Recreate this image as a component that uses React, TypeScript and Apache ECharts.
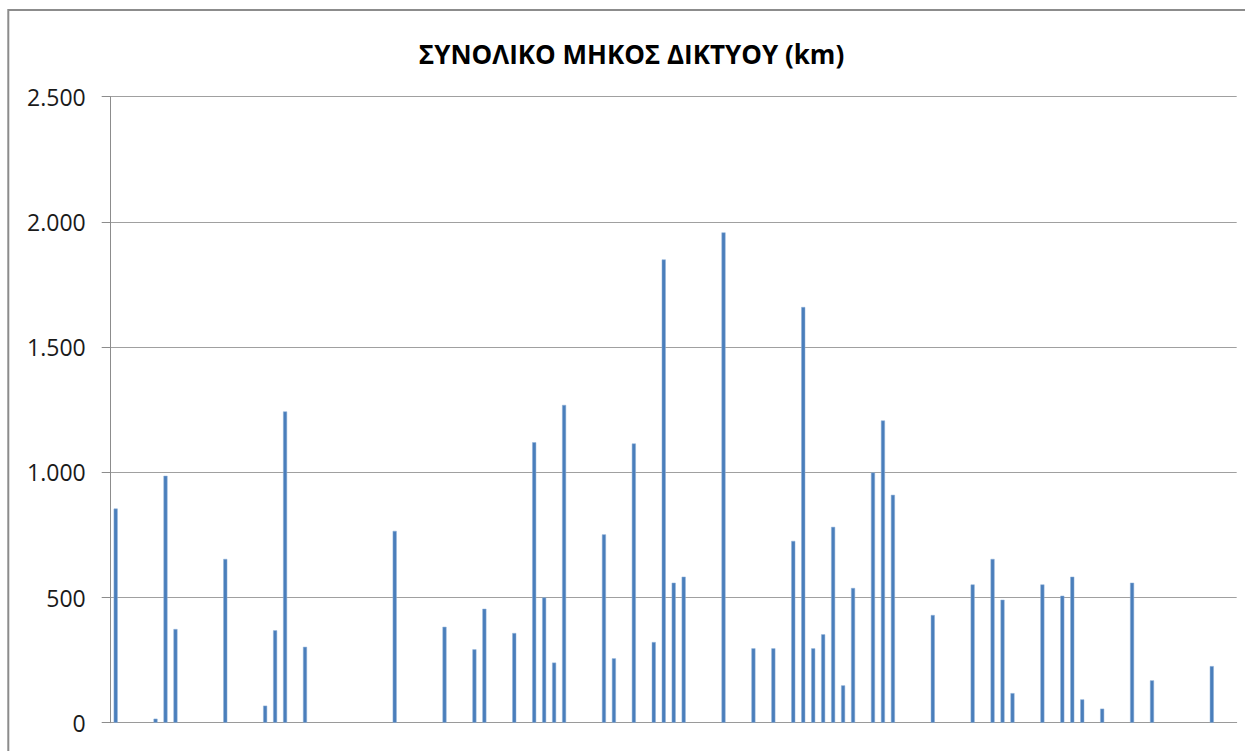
import React, { useEffect, useRef } from "react";
import * as echarts from "echarts";

const TITLE = "ΣΥΝΟΛΙΚΟ ΜΗΚΟΣ ΔΙΚΤΥΟΥ (km)";

// Network length (km) per category; null = no bar
const values: (number | null)[] = [
  855, null, null, null, 16, 986, 374, null, null, null,
  null, 654, null, null, null, 68, 369, 1243, null, 303,
  null, null, null, null, null, null, null, null, 766, null,
  null, null, null, 383, null, null, 293, 455, null, null,
  358, null, 1120, 500, 240, 1269, null, null, null, 752,
  257, null, 1115, null, 322, 1850, 559, 583, null, null,
  null, 1958, null, null, 297, null, 297, null, 726, 1660,
  297, 353, 782, 149, 538, null, 999, 1207, 910, null,
  null, null, 430, null, null, null, 552, null, 654, 491,
  118, null, null, 552, null, 507, 583, 93, null, 56,
  null, null, 559, null, 169, null, null, null, null, null,
  226, null, null,
];

const categories: string[] = values.map((_, i) => String(i + 1));

const yMin = 0;
const yMax = 2500;
const yStep = 500;

function fmt(v: number): string {
  return String(Math.round(v)).replace(/\B(?=(\d{3})+(?!\d))/g, ".");
}

export default function App() {
  const ref = useRef<HTMLDivElement>(null);
  useEffect(() => {
    if (!ref.current) return;
    const chart = echarts.init(ref.current, null, { renderer: "svg" });
    chart.setOption({
      animation: false,
      backgroundColor: "#ffffff",
      graphic: [
        {
          type: "rect",
          shape: { x: 8.3, y: 10, width: 1400, height: 1000 },
          style: { fill: "none", stroke: "#8c8c8c", lineWidth: 2 },
          silent: true,
        },
        {
          type: "text",
          x: 631.5,
          y: 54,
          style: {
            text: TITLE,
            fontFamily: "Open Sans",
            fontWeight: "bold",
            fontSize: 26,
            fill: "#000000",
            textAlign: "center",
            textVerticalAlign: "middle",
          },
        },
      ],
      grid: { left: 110.7, right: 8.3, top: 96.7, bottom: 28.3, containLabel: false },
      xAxis: {
        type: "category",
        data: categories,
        boundaryGap: true,
        axisLine: { show: true, lineStyle: { color: "#9a9a9a", width: 1 } },
        axisTick: { show: false },
        axisLabel: { show: false },
        splitLine: { show: false },
      },
      yAxis: {
        type: "value",
        min: yMin,
        max: yMax,
        interval: yStep,
        axisLine: { show: true, lineStyle: { color: "#8c8c8c", width: 1 } },
        axisTick: { show: true, length: 9, lineStyle: { color: "#8c8c8c" } },
        axisLabel: {
          margin: 25,
          fontFamily: "Open Sans",
          fontSize: 23,
          color: "#1a1a1a",
          formatter: (v: number) => fmt(v),
        },
        splitLine: { show: true, lineStyle: { color: "#a0a0a0", width: 1 } },
      },
      series: [
        {
          type: "bar",
          data: values,
          barWidth: 4,
          itemStyle: { color: "#4a7ebb", borderColor: "#8fb0d8", borderWidth: 0.5 },
        },
      ],
    });
    return () => chart.dispose();
  }, []);
  return (
    <div
      ref={ref}
      style={{ position: "fixed", left: 0, top: 0, width: 1245, height: 751 }}
    />
  );
}
